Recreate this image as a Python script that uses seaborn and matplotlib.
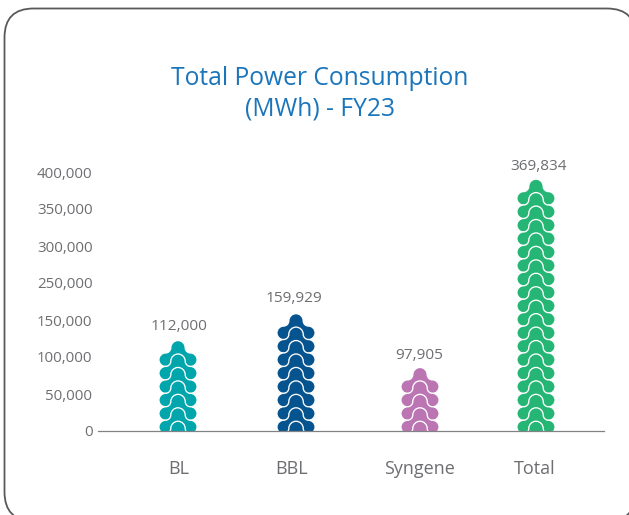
import matplotlib
matplotlib.use("Agg")
import matplotlib.pyplot as plt
from matplotlib.path import Path
from matplotlib.patches import FancyBboxPatch
import pandas as pd
import seaborn as sns

# ---- data
categories = ["BL", "BBL", "Syngene", "Total"]
values = [112000, 159929, 97905, 369834]
tier_counts = [6, 8, 4, 18]          # stacked pictogram tiers drawn in each column
# the reference's axis skips 200,000: eight evenly spaced labels
y_tick_labels = ["0", "50,000", "100,000", "150,000", "250,000", "300,000", "350,000", "400,000"]
title_text = "Total Power Consumption\n(MWh) - FY23"

# ---- style
colors = ["#00A6AC", "#06548F", "#BC75B3", "#25B574"]
text_grey = "#6D6E71"
W, H = 629, 515
AX_L, AX_R, AX_B, AX_T = 98, 604, 431, 172
STEP = 50000
YMAX = STEP * (len(y_tick_labels) - 1)
UNITS_PER_PX = YMAX / (AX_B - AX_T)
X_UNIT_PX = 119.33
bar_x = [0.0, 0.989, 2.028, 3.0]
tick_x = [0.008, 0.948, 2.02, 2.99]
label_dx = [1, -2, -1, 3]
label_dy = [15, 16, 13, 13]
BASE_PX, PITCH_PX, TILE_TOP_PX = 4.0, 13.45, 18.4

sns.set_theme(style="white")
plt.rcParams["font.family"] = ["Open Sans", "DejaVu Sans"]

# tile outline (pixel units around the lobe centre line)
k = 0.5523
lx, lr, br, by = 12.3, 6.8, 7.2, 12.0
verts = [
    (-lx, -lr),
    (-lx - k * lr, -lr), (-lx - lr, -k * lr), (-lx - lr, 0),
    (-lx - lr, k * lr), (-lx - k * lr, lr), (-lx, lr),
    (-9.8, lr), (-br - 0.1, 8.8), (-br, by),
    (-br, by + k * br), (-k * br, by + br), (0, by + br),
    (k * br, by + br), (br, by + k * br), (br, by),
    (br + 0.1, 8.8), (9.8, lr), (lx, lr),
    (lx + k * lr, lr), (lx + lr, k * lr), (lx + lr, 0),
    (lx + lr, -k * lr), (lx + k * lr, -lr), (lx, -lr),
    (-lx, -lr),
]
codes = [Path.MOVETO] + [Path.CURVE4] * 24 + [Path.CLOSEPOLY]
tile = Path(verts, codes)
extent = max(max(abs(a), abs(b)) for a, b in verts)
marker_size = (2 * extent * 0.72) ** 2

fig = plt.figure(figsize=(W / 100, H / 100), dpi=100)
fig.patch.set_facecolor("white")

# rounded frame, running off the canvas on the right and bottom
bg = fig.add_axes([0, 0, 1, 1], zorder=0)
bg.set_xlim(0, W)
bg.set_ylim(H, 0)
bg.axis("off")
bg.add_patch(FancyBboxPatch((4.5, 8.5), 631.5, 512.5,
                            boxstyle="round,pad=0,rounding_size=29",
                            fc="white", ec="#58595B", lw=1.3))

ax = fig.add_axes([AX_L / W, (H - AX_B) / H, (AX_R - AX_L) / W, (AX_B - AX_T) / H], zorder=1)
ax.patch.set_alpha(0)

rows = []
for cat, n, x in zip(categories, tier_counts, bar_x):
    # from the top tier down, so that each lower tile overlaps the one above;
    # the extra tier at -1 is cut by the baseline
    for i in range(n - 1, -2, -1):
        rows.append({"cat": cat, "x": x, "y": (BASE_PX + i * PITCH_PX) * UNITS_PER_PX})
df = pd.DataFrame(rows)

sns.scatterplot(data=df, x="x", y="y", hue="cat", hue_order=categories, palette=colors,
                marker=tile, s=marker_size, edgecolor="white", linewidth=0.95,
                legend=False, ax=ax, alpha=1)

ax.set_xlim((AX_L - 178) / X_UNIT_PX, (AX_R - 178) / X_UNIT_PX)
ax.set_ylim(0, YMAX)
ax.set_xlabel("")
ax.set_ylabel("")
ax.set_yticks([STEP * i for i in range(len(y_tick_labels))])
ax.set_yticklabels(y_tick_labels)
ax.set_xticks(tick_x)
ax.set_xticklabels(categories)
ax.tick_params(axis="y", length=0, pad=4, labelsize=10.8, labelcolor=text_grey)
ax.tick_params(axis="x", length=0, pad=21, labelsize=13, labelcolor=text_grey)
sns.despine(ax=ax, left=True, top=True, right=True)
ax.spines["bottom"].set_color("#808285")
ax.spines["bottom"].set_linewidth(0.9)
ax.spines["bottom"].set_zorder(5)
ax.grid(False)

for v, n, x, dx, dy in zip(values, tier_counts, bar_x, label_dx, label_dy):
    top = (BASE_PX + (n - 1) * PITCH_PX + TILE_TOP_PX) * UNITS_PER_PX
    ax.annotate(f"{v:,}", (x, top), xytext=(dx * 0.72, dy * 0.72), textcoords="offset points",
                ha="center", va="center", fontsize=11.1, color=text_grey)

fig.text(320 / W, 1 - 93.5 / H, title_text, ha="center", va="center", fontsize=17.7,
         color="#1B75BB", linespacing=1.3)

fig.savefig("out.png", dpi=100)
